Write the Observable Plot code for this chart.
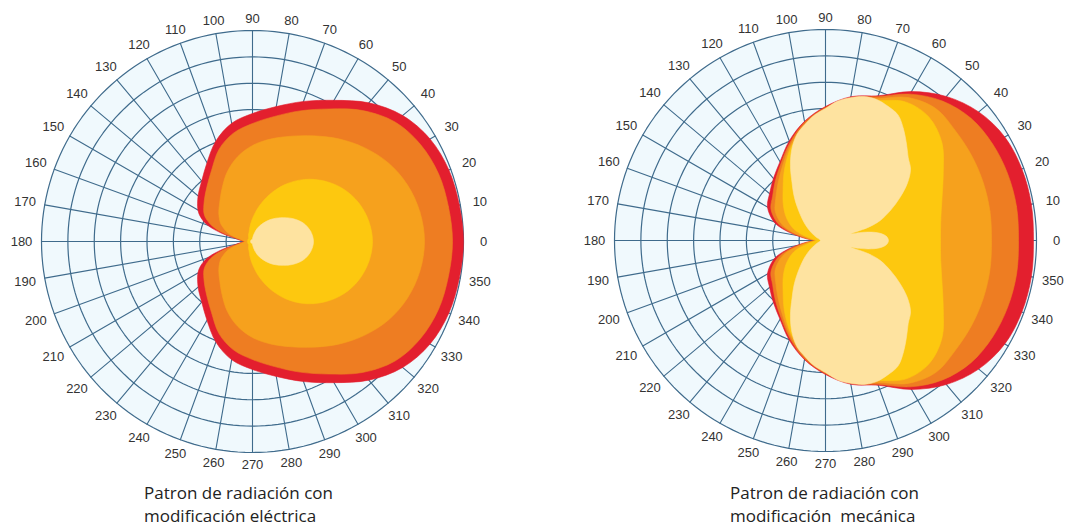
<!DOCTYPE html>
<html><head><meta charset="utf-8">
<script src="https://cdn.jsdelivr.net/npm/d3@7"></script>
<script src="https://cdn.jsdelivr.net/npm/@observablehq/plot@0.6"></script>
<style>
body{margin:0;background:#fff;}
#wrap{position:relative;width:1074px;height:529px;overflow:hidden;}
.chart{position:absolute;top:0;}
.cap{position:absolute;top:481px;font-family:"Open Sans",sans-serif;font-size:17px;line-height:23px;color:#222;white-space:pre;}
</style></head><body>
<div id="wrap"></div>
<script>
// ---- shared tick labels (degrees) ----
const tickAngles = [0,10,20,30,40,50,60,70,80,90,100,110,120,130,140,150,160,170,180,190,200,210,220,230,240,250,260,270,280,290,300,310,320,330,340,350];
const ringSteps = [1,2,3,4,5,6,7,8];

// ---- left chart: electrical tilt (radius, outer circle = 211) ----
const anglesElec = [0,10,20,30,40,50,60,70,80,90,100,110,120,130,140,150,155,160,165,170,175,180,185,190,195,200,205,210,220,230,240,250,260,270,280,290,300,310,320,330,340,350];
const elecRed    = [211,210,209,205,196,181,163,149,137,128,120,107,91,79,71,63,57,48,32,17,12,9,12,17,32,48,57,63,71,79,91,107,120,128,137,149,163,181,196,205,209,210];
const elecDark   = [200,199,198,194,186,171,153,139,127,118,110,98,82,71,63,56,50,41,27,14,10,8,10,14,27,41,50,56,63,71,82,98,110,118,127,139,153,171,186,194,198,199];
const elecOrange = [172,170,165,157,146,134,122,112,104,96,86,74,61,51,44,37,32,27,20,12,9,7,9,12,20,27,32,37,44,51,61,74,86,96,104,112,122,134,146,157,165,170];
const elecYellow = [120,118,113,105,94,81,66,50,35,23,15,10,8,6,5,5,5,5,5,5,5,5,5,5,5,5,5,5,5,6,8,10,15,23,35,50,66,81,94,105,113,118];
const elecLight  = [61,59,54,46,37,29,21,14,7,3,2,2,2,2,2,2,2,2,2,2,2,2,2,2,2,2,2,2,2,2,2,2,2,3,7,14,21,29,37,46,54,59];

// ---- right chart: mechanical tilt ----
const anglesMech = [0,10,20,30,40,50,60,70,80,90,100,110,120,130,140,150,160,165,170,175,180,185,190,195,200,210,220,230,240,250,260,270,280,290,300,310,320,330,340,350];
const mechRed    = [208,209,209,207,200,188,172,154,146,134,121,106,91,81,73,67,55,44,30,19,12,19,30,44,55,67,73,81,91,106,121,134,146,154,172,188,200,207,209,209];
const mechDark   = [193,194,194,193,190,182,169,153,145,133,120,104,89,78,69,63,51,40,27,17,11,17,27,40,51,63,69,78,89,104,120,133,145,153,169,182,190,193,194,194];
const mechOrange = [166,167,168,169,170,172,165,151,144,132,118,102,86,74,65,58,46,36,24,15,10,15,24,36,46,58,65,74,86,102,118,132,144,151,165,172,170,169,168,167];
const mechYellow = [115,117,124,136,152,161,160,149,143,131,116,100,82,66,55,45,34,26,18,12,9,12,18,26,34,45,55,66,82,100,116,131,143,149,160,161,152,136,124,117];
const anglesMechLight = [0,4,8,11,13,15,17,20,25,30,35,40,45,50,55,60,65,70,75,80,85,90,95,100,105,110,115,120,125,130,140,150,160,170,180,190,200,210,220,230,235,240,245,250,255,260,265,270,275,280,285,290,295,300,305,310,315,320,325,330,335,340,343,345,347,349,352,356];
const mechLight  = [63,61,54,44,35,26,44,58,72,86,100,111,117,126,136,145,148,150,149,145,140,132,126,118,110,98,83,67,55,44,28,17,10,6,5,6,10,17,28,44,55,67,83,98,110,118,126,132,140,145,149,150,148,145,136,126,117,111,100,86,72,58,44,26,35,44,54,61];

const colors = {red:"#e31f2e", dark:"#ee7d22", orange:"#f6a11d", yellow:"#fdc80f", light:"#fee3a0"};
const captions = [["Patron de radiación con","modificación eléctrica"],["Patron de radiación con","modificación  mecánica"]];

const R = 211;
const gridColor = "#3f6b8c";
const rad = a => a * Math.PI / 180;
const px = d => d.r * Math.cos(rad(d.a));
const py = d => d.r * Math.sin(rad(d.a));
const labelR = a => 223 + 8 * Math.abs(Math.cos(rad(a)));

function polarChart({layers, cx, cy, width, height}) {
  const circlePts = d3.range(0, 360, 2).map(a => ({a, r: R}));
  const rings = ringSteps.flatMap(k => d3.range(0, 361, 2).map(a => ({k, a, r: R * k / ringSteps.length})));
  const spokes = tickAngles.flatMap(a => [{a, r: 0}, {a, r: R}]);
  return Plot.plot({
    width, height, margin: 0,
    style: {fontFamily: "'Liberation Sans', Arial, sans-serif", overflow: "visible", background: "transparent"},
    x: {domain: [-cx, width - cx], range: [0, width], axis: null},
    y: {domain: [cy - height, cy], range: [height, 0], axis: null},
    marks: [
      Plot.line(circlePts, {x: px, y: py, fill: "#f0f9fd", stroke: "none", curve: "linear-closed"}),
      Plot.line(rings, {x: px, y: py, z: "k", stroke: gridColor, strokeWidth: 1.2}),
      Plot.line(spokes, {x: px, y: py, z: "a", stroke: gridColor, strokeWidth: 1.1}),
      ...layers.map(l => Plot.line(l.angles.map((a, i) => ({a, r: l.r[i]})), {
        x: px, y: py, fill: l.color, stroke: l.color, strokeWidth: 0.6, curve: "catmull-rom-closed"
      })),
      Plot.text(tickAngles, {x: a => labelR(a) * Math.cos(rad(a)), y: a => labelR(a) * Math.sin(rad(a)), text: a => String(a), fontSize: 13, fill: "#333"})
    ]
  });
}

const wrap = document.getElementById("wrap");
const left = polarChart({
  cx: 252, cy: 241, width: 540, height: 482,
  layers: [
    {angles: anglesElec, r: elecRed, color: colors.red},
    {angles: anglesElec, r: elecDark, color: colors.dark},
    {angles: anglesElec, r: elecOrange, color: colors.orange},
    {angles: anglesElec, r: elecYellow, color: colors.yellow},
    {angles: anglesElec, r: elecLight, color: colors.light}
  ]
});
left.classList.add("chart"); left.style.left = "0px";
wrap.appendChild(left);

const right = polarChart({
  cx: 291, cy: 240, width: 540, height: 482,
  layers: [
    {angles: anglesMech, r: mechRed, color: colors.red},
    {angles: anglesMech, r: mechDark, color: colors.dark},
    {angles: anglesMech, r: mechOrange, color: colors.orange},
    {angles: anglesMech, r: mechYellow, color: colors.yellow},
    {angles: anglesMechLight, r: mechLight, color: colors.light}
  ]
});
right.classList.add("chart"); right.style.left = "534px";
wrap.appendChild(right);

[[144, captions[0]], [730, captions[1]]].forEach(([x, lines]) => {
  const d = document.createElement("div");
  d.className = "cap";
  d.style.left = x + "px";
  d.textContent = lines.join("\n");
  wrap.appendChild(d);
});
</script>
</body></html>
